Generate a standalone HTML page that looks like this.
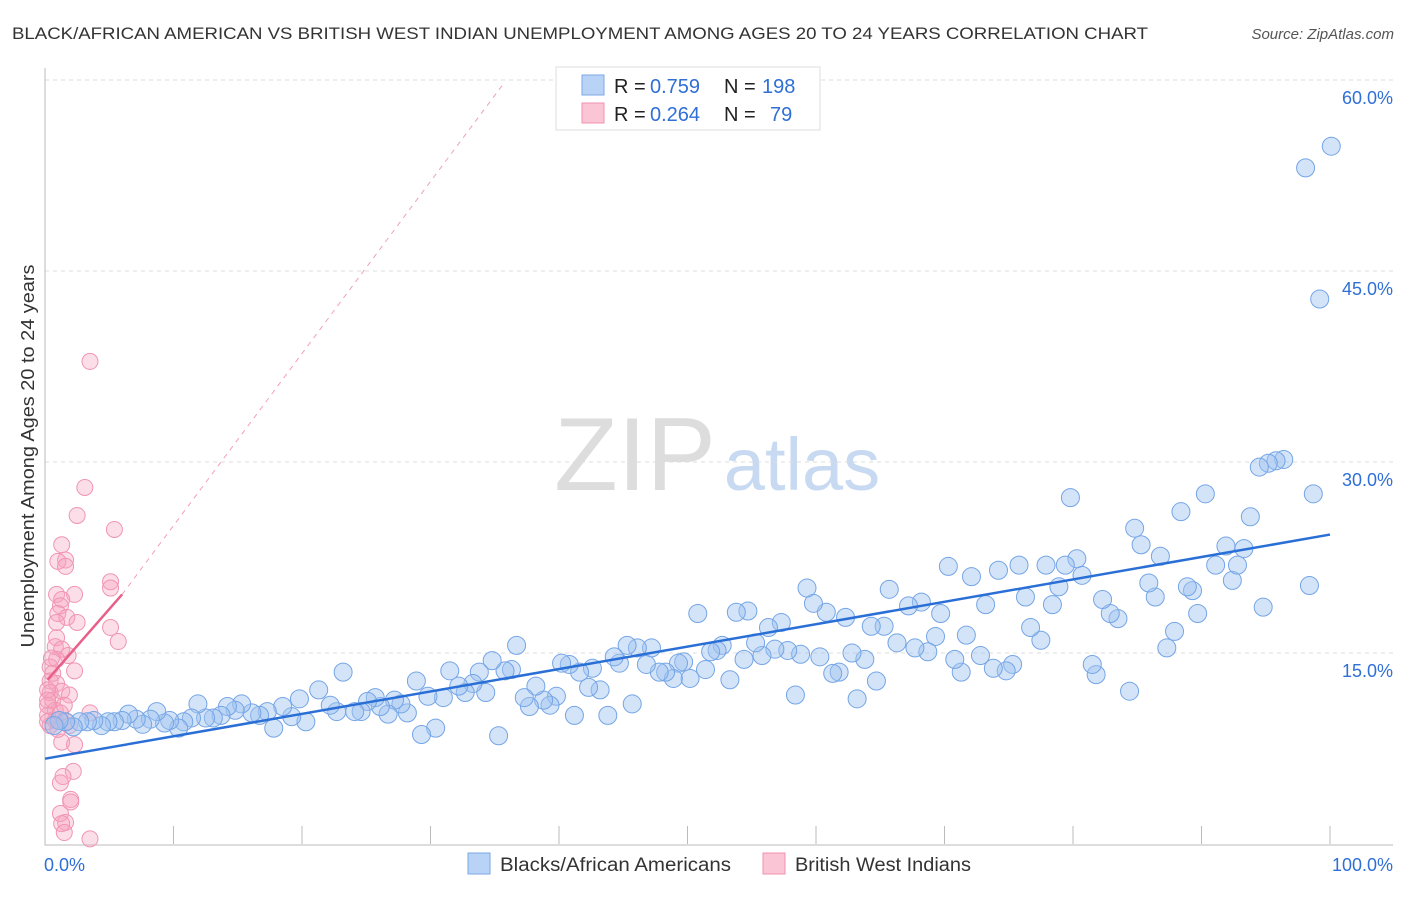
<!DOCTYPE html>
<html><head><meta charset="utf-8"><style>
body{margin:0;background:#fff;font-family:"Liberation Sans",sans-serif;}
svg text{font-family:"Liberation Sans",sans-serif;}
</style></head><body>
<svg id="chart" width="1406" height="892">
<text x="12" y="39" font-size="17" fill="#333" textLength="1136" lengthAdjust="spacingAndGlyphs">BLACK/AFRICAN AMERICAN VS BRITISH WEST INDIAN UNEMPLOYMENT AMONG AGES 20 TO 24 YEARS CORRELATION CHART</text>
<text x="1394" y="39" font-size="15" fill="#555" font-style="italic" text-anchor="end">Source: ZipAtlas.com</text>
<text x="635" y="490" font-size="104" fill="#ddd" text-anchor="middle" font-family="Liberation Serif">ZIP</text>
<text x="802" y="490" font-size="74" fill="#c8d9f2" text-anchor="middle">atlas</text>
<text transform="translate(34,456) rotate(-90)" font-size="18" fill="#333" text-anchor="middle" textLength="383" lengthAdjust="spacingAndGlyphs">Unemployment Among Ages 20 to 24 years</text>
<g id="grid"></g><g id="axes"></g><g id="pts"></g><g id="trend"></g>
<g>
<rect x="556" y="67" width="264" height="63" fill="#fff" stroke="#ddd"/>
<rect x="582" y="75" width="22" height="20" fill="#b9d3f6" stroke="#7aaae6"/>
<rect x="582" y="103" width="22" height="20" fill="#fac6d6" stroke="#f090ae"/>
<text x="614" y="93" font-size="20" fill="#222">R =</text><text x="650" y="93" font-size="20" fill="#2f6fd6">0.759</text>
<text x="724" y="93" font-size="20" fill="#222">N =</text><text x="762" y="93" font-size="20" fill="#2f6fd6">198</text>
<text x="614" y="121" font-size="20" fill="#222">R =</text><text x="650" y="121" font-size="20" fill="#2f6fd6">0.264</text>
<text x="724" y="121" font-size="20" fill="#222">N =</text><text x="770" y="121" font-size="20" fill="#2f6fd6">79</text>
</g>
<g>
<rect x="468" y="853" width="22" height="21" fill="#b9d3f6" stroke="#7aaae6"/>
<text x="500" y="871" font-size="19" fill="#333" textLength="231" lengthAdjust="spacingAndGlyphs">Blacks/African Americans</text>
<rect x="763" y="853" width="22" height="21" fill="#fac6d6" stroke="#f090ae"/>
<text x="795" y="871" font-size="19" fill="#333" textLength="176" lengthAdjust="spacingAndGlyphs">British West Indians</text>
</g>
<text x="44" y="871" font-size="18" fill="#2f6fd6">0.0%</text>
<text x="1393" y="871" font-size="18" fill="#2f6fd6" text-anchor="end">100.0%</text>
</svg>
<script>
const yTicks=[15,30,45,60];
const yTickLabels=["15.0%","30.0%","45.0%","60.0%"];
const xTicks=[0,10,20,30,40,50,60,70,80,90,100];
const blueX=[100.1,98.1,99.2,98.7,98.4,96.4,95.8,95.2,94.5,94.8,93.8,93.3,91.9,92.4,92.8,91.1,90.3,89.7,89.3,88.9,88.4,87.9,87.3,86.8,86.4,85.9,85.3,84.8,84.4,83.5,82.9,82.3,81.8,81.5,80.7,80.3,79.8,79.4,78.9,78.4,77.9,77.5,76.7,76.3,75.8,75.3,74.8,74.2,73.8,73.2,72.8,72.1,71.7,71.3,70.8,70.3,69.7,69.3,68.7,68.2,67.7,67.2,66.3,65.7,65.3,64.7,64.3,63.8,63.2,62.8,62.3,61.8,61.3,60.8,60.3,59.8,59.3,58.8,58.4,57.8,57.3,56.8,56.3,55.8,55.3,54.7,54.4,53.8,53.3,52.7,52.3,51.8,51.4,50.8,50.2,49.7,49.3,48.9,48.3,47.8,47.2,46.8,46.1,45.7,45.3,44.7,44.3,43.8,43.2,42.6,42.3,41.6,41.2,40.8,40.2,39.8,39.3,38.8,38.2,37.7,37.3,36.7,36.3,35.8,35.3,34.8,34.3,33.8,33.3,32.7,32.2,31.5,31.0,30.4,29.8,29.3,28.9,28.2,27.7,27.2,26.7,26.1,25.7,25.1,24.6,24.1,23.2,22.7,22.2,21.3,20.3,19.8,19.2,18.5,17.8,17.3,16.7,16.1,15.3,14.8,14.2,13.7,13.1,12.5,11.9,11.4,10.8,10.4,9.7,9.3,8.7,8.2,7.6,7.1,6.5,6.0,5.4,4.9,4.4,3.8,3.3,2.7,2.2,1.6,1.1,0.7];
const blueY=[54.8,53.1,42.8,27.5,20.3,30.2,30.1,29.9,29.6,18.6,25.7,23.2,23.4,20.7,21.9,21.9,27.5,18.1,19.9,20.2,26.1,16.7,15.4,22.6,19.4,20.5,23.5,24.8,12.0,17.7,18.1,19.2,13.3,14.1,21.1,22.4,27.2,21.9,20.2,18.8,21.9,16.0,17.0,19.4,21.9,14.1,13.6,21.5,13.8,18.8,14.8,21.0,16.4,13.5,14.5,21.8,18.1,16.3,15.1,19.0,15.4,18.7,15.8,20.0,17.1,12.8,17.1,14.5,11.4,15.0,17.8,13.5,13.4,18.2,14.7,18.9,20.1,14.9,11.7,15.2,17.4,15.3,17.0,14.8,15.8,18.3,14.5,18.2,12.9,15.6,15.2,15.1,13.7,18.1,13.0,14.3,14.2,13.0,13.5,13.5,15.4,14.1,15.4,11.0,15.6,14.2,14.7,10.1,12.1,13.8,12.3,13.5,10.1,14.1,14.2,11.6,10.9,11.3,12.4,10.8,11.5,15.6,13.7,13.6,8.5,14.4,11.9,13.5,12.6,11.9,12.4,13.6,11.5,9.1,11.6,8.6,12.8,10.3,11.0,11.3,10.2,10.8,11.5,11.2,10.4,10.4,13.5,10.4,10.9,12.1,9.6,11.4,10.0,10.8,9.1,10.4,10.1,10.3,11.0,10.5,10.8,10.1,9.9,9.9,11.0,9.9,9.6,9.1,9.7,9.5,10.4,9.8,9.4,9.8,10.2,9.7,9.6,9.6,9.3,9.7,9.6,9.6,9.2,9.6,9.7,9.3];
const pinkX=[3.5,3.1,5.4,2.5,1.3,1.6,1.0,1.6,5.1,5.1,0.9,2.3,1.3,1.2,1.0,1.7,0.9,2.5,5.1,5.7,0.9,0.8,1.3,1.8,0.9,2.3,0.4,0.6,0.4,0.9,1.3,1.9,0.4,0.6,0.2,0.8,0.2,0.8,1.2,3.5,1.7,0.4,1.3,2.3,2.2,1.4,1.2,2.0,2.0,1.2,1.6,1.3,1.5,3.5,0.2,0.2,0.5,0.2,1.0,1.9,1.5];
const pinkY=[37.9,28.0,24.7,25.8,23.5,22.3,22.2,21.8,20.6,20.1,19.6,19.6,19.2,18.7,18.1,17.8,17.4,17.4,17.0,15.9,16.2,15.5,15.3,14.8,14.5,13.6,13.9,13.4,12.8,12.6,12.0,11.7,11.9,11.3,10.9,10.5,10.1,9.7,10.3,10.3,9.6,9.3,8.0,7.8,5.7,5.3,4.8,3.5,3.3,2.4,1.7,1.6,0.9,0.4,12.1,11.3,14.6,9.6,9.0,9.3,10.9];
const blueTrend=[[0,6.7],[100,24.3]];
const pinkTrend=[[0.2,12.9],[6,19.6]];
const pinkDash=[[6,19.6],[35.6,59.6]];
const L=45,R=1330,B=844,T=80;
const xs=v=>L+(R-L)*v/100;
const ys=v=>B-(B-T)*v/60;
const NS="http://www.w3.org/2000/svg";
function mk(tag,parent,attrs){const e=document.createElementNS(NS,tag);for(const k in attrs)e.setAttribute(k,attrs[k]);document.getElementById(parent).appendChild(e);return e;}
yTicks.forEach((t,i)=>{
 const g=mk('line','grid',{x1:L,x2:1393,y1:ys(t),y2:ys(t),stroke:'#ddd','stroke-dasharray':'4,4'});
 
 
 const tx=mk('text','grid',{x:1393,y:ys(t)+24,'font-size':18,fill:'#2f6fd6','text-anchor':'end'});
 tx.textContent=yTickLabels[i];
 
 
});
const ax=mk('path','axes',{d:`M${L} 68V${B+1}H1393`,stroke:'#bbb',fill:'none'});


xTicks.forEach(t=>{
 const l=mk('line','axes',{x1:xs(t),x2:xs(t),y1:826,y2:B,stroke:'#bbb'});
 
 
});
pinkX.forEach((x,i)=>{
 const c=mk('circle','pts',{cx:xs(x),cy:ys(pinkY[i]),r:8,fill:'rgba(245,160,188,0.35)',stroke:'#f095b2','stroke-width':1});
 
 
});
blueX.forEach((x,i)=>{
 const c=mk('circle','pts',{cx:xs(x),cy:ys(blueY[i]),r:9,fill:'rgba(160,195,240,0.45)',stroke:'#74a5e6','stroke-width':1});
 
 
});
const bt=mk('line','trend',{x1:xs(blueTrend[0][0]),y1:ys(blueTrend[0][1]),x2:xs(blueTrend[1][0]),y2:ys(blueTrend[1][1]),stroke:'#2a6fd6','stroke-width':2.5});


const pt=mk('line','trend',{x1:xs(pinkTrend[0][0]),y1:ys(pinkTrend[0][1]),x2:xs(pinkTrend[1][0]),y2:ys(pinkTrend[1][1]),stroke:'#e8608a','stroke-width':2.5});


const pd=mk('line','trend',{x1:xs(pinkDash[0][0]),y1:ys(pinkDash[0][1]),x2:xs(pinkDash[1][0]),y2:ys(pinkDash[1][1]),stroke:'#f0a0b8','stroke-width':1,'stroke-dasharray':'5,5'});


</script>
</body></html>
